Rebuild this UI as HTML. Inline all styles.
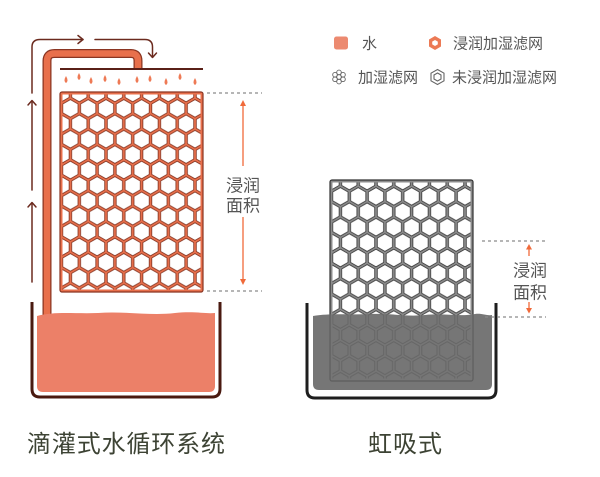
<!DOCTYPE html>
<html><head><meta charset="utf-8"><style>
html,body{margin:0;padding:0;background:#fff;width:600px;height:477px;overflow:hidden}
svg{display:block}
text{font-family:"Liberation Sans","Noto Sans CJK SC",sans-serif}
</style></head><body>
<svg width="600" height="477" viewBox="0 0 600 477" xmlns="http://www.w3.org/2000/svg">
<defs>
<path id="hx" d="M0,-8.8 L7.62,-4.4 L7.62,4.4 L0,8.8 L-7.62,4.4 L-7.62,-4.4Z"/>
<pattern id="pL" patternUnits="userSpaceOnUse" x="61.5" y="93" width="17.8" height="30.8">
<g fill="#fff" stroke="#7e2f1d" stroke-width="0.8" stroke-linejoin="round">
<use href="#hx" x="0" y="0"/><use href="#hx" x="17.8" y="0"/><use href="#hx" x="0" y="30.8"/><use href="#hx" x="17.8" y="30.8"/><use href="#hx" x="8.9" y="15.4"/>
</g></pattern>
<pattern id="pR" patternUnits="userSpaceOnUse" x="331.5" y="181" width="17.8" height="30.8">
<g fill="#fff" stroke="#333" stroke-width="0.8" stroke-linejoin="round">
<use href="#hx" x="0" y="0"/><use href="#hx" x="17.8" y="0"/><use href="#hx" x="0" y="30.8"/><use href="#hx" x="17.8" y="30.8"/><use href="#hx" x="8.9" y="15.4"/>
</g></pattern>
<pattern id="pR2" patternUnits="userSpaceOnUse" x="331.5" y="181" width="17.8" height="30.8">
<g fill="none" stroke="#555" stroke-width="1" stroke-linejoin="round">
<use href="#hx" x="0" y="0"/><use href="#hx" x="17.8" y="0"/><use href="#hx" x="0" y="30.8"/><use href="#hx" x="17.8" y="30.8"/><use href="#hx" x="8.9" y="15.4"/>
</g></pattern>
<clipPath id="wR"><path d="M313,316 C330,313 350,315 370,314 C390,313 405,317 425,315 C445,313 460,317 475,314 C482,313 487,316 492,315 V384 Q492,390 486,390 H319 Q313,390 313,384 Z"/></clipPath>
</defs>

<!-- LEFT: arrows -->
<g fill="none" stroke="#6b2a1e" stroke-width="1.5" stroke-linecap="round" stroke-linejoin="round">
<path d="M32,93 V47 Q32,39.5 40,39.5 H83"/>
<path d="M78,35.5 L83,39.5 L78,43.5"/>
<path d="M95,39.5 H145 Q152.5,39.5 152.5,47 V57"/>
<path d="M148.5,53 L152.5,57.5 L156.5,53"/>
<path d="M32,190 V101"/><path d="M28,105 L32,100.5 L36,105"/>
<path d="M32,282 V203"/><path d="M28,207 L32,202.5 L36,207"/>
</g>

<!-- pipe -->
<path d="M47,318 V61 Q47,53.5 54.5,53.5 H131 Q138,53.5 138,61 V69" fill="none" stroke="#8a3522" stroke-width="9"/>
<path d="M47,318 V61 Q47,53.5 54.5,53.5 H131 Q138,53.5 138,61 V69" fill="none" stroke="#e8704c" stroke-width="6.5"/>

<!-- drip tray -->
<line x1="60" y1="69" x2="203" y2="69" stroke="#5a2018" stroke-width="2"/>
<g fill="#ee7a55">
<path d="M66,76 Q69,81 66,83 Q63,81 66,76Z"/>
<path d="M79,73 Q82,78 79,80 Q76,78 79,73Z"/>
<path d="M91,77 Q94,82 91,84 Q88,82 91,77Z"/>
<path d="M105,75 Q108,80 105,82 Q102,80 105,75Z"/>
<path d="M119,78 Q122,83 119,85 Q116,83 119,78Z"/>
<path d="M137,76 Q140,81 137,83 Q134,81 137,76Z"/>
<path d="M150,75 Q153,80 150,82 Q147,80 150,75Z"/>
<path d="M166,78 Q169,83 166,85 Q163,83 166,78Z"/>
<path d="M180,73 Q183,78 180,80 Q177,78 180,73Z"/>
<path d="M195,78 Q198,83 195,85 Q192,83 195,78Z"/>
</g>

<!-- left panel -->
<rect x="60" y="92" width="143" height="200" rx="2" fill="#e8704c" stroke="#8a3522" stroke-width="1.2"/>
<rect x="62.5" y="94.5" width="138" height="195" fill="url(#pL)"/>

<!-- left dims -->
<g stroke="#8a8a8a" stroke-width="1.2" stroke-dasharray="3,3">
<line x1="207" y1="93" x2="262" y2="93"/>
<line x1="207" y1="291" x2="262" y2="291"/>
</g>
<g stroke="#f06a3a" stroke-width="1.3" fill="#f06a3a">
<line x1="243" y1="105" x2="243" y2="166"/>
<line x1="243" y1="217" x2="243" y2="280"/>
<path d="M243,100 L246,106 L240,106Z" stroke="none"/>
<path d="M243,285 L246,279 L240,279Z" stroke="none"/>
</g>
<text x="243" y="191.5" font-size="17" fill="#555" text-anchor="middle">浸润</text>
<text x="243" y="211.5" font-size="17" fill="#555" text-anchor="middle">面积</text>

<!-- left water & container -->
<path d="M37,316 C55,311 75,314 98,313 C125,311 150,316 175,313 C195,311 205,314 215,313 V386 Q215,392 209,392 H43 Q37,392 37,386 Z" fill="#ec8068"/>
<path d="M32,302 V389 Q32,397 40,397 H212 Q220,397 220,389 V302" fill="none" stroke="#4a1a10" stroke-width="3"/>

<!-- RIGHT panel -->
<rect x="330" y="180" width="143" height="201" rx="2" fill="#8c8c8c" stroke="#333" stroke-width="1.2"/>
<rect x="332.5" y="182.5" width="138" height="196" fill="url(#pR)"/>
<!-- right water -->
<g clip-path="url(#wR)">
<rect x="310" y="305" width="185" height="90" fill="#767676"/>
<rect x="330" y="180" width="143" height="201" rx="2" fill="none" stroke="#5e5e5e" stroke-width="1.2"/>
<rect x="332.5" y="182.5" width="138" height="196" fill="url(#pR2)" opacity="0.5"/>
</g>
<path d="M307,303 V390 Q307,398 315,398 H488 Q496,398 496,390 V303" fill="none" stroke="#1e1e1e" stroke-width="3"/>

<!-- right dims -->
<g stroke="#8a8a8a" stroke-width="1.2" stroke-dasharray="3,3">
<line x1="482" y1="241" x2="546" y2="241"/>
<line x1="485" y1="317" x2="546" y2="317"/>
</g>
<g stroke="#f06a3a" stroke-width="1.3" fill="#f06a3a">
<line x1="529" y1="248" x2="529" y2="256"/>
<line x1="529" y1="302" x2="529" y2="309"/>
<path d="M529,244 L532,249.5 L526,249.5Z" stroke="none"/>
<path d="M529,313.5 L532,308 L526,308Z" stroke="none"/>
</g>
<text x="530" y="276.5" font-size="17" fill="#555" text-anchor="middle">浸润</text>
<text x="530" y="298.5" font-size="17" fill="#555" text-anchor="middle">面积</text>

<!-- legend -->
<rect x="334" y="36.5" width="14" height="13" rx="2.5" fill="#ec8a70"/>
<text x="362" y="48.7" font-size="15" fill="#555">水</text>
<path d="M435,36 L441,39.5 L441,46.5 L435,50 L429,46.5 L429,39.5Z" fill="#ec7a55"/>
<path d="M435,40 L437.8,41.6 L437.8,44.4 L435,46 L432.2,44.4 L432.2,41.6Z" fill="#fff"/>
<text x="453" y="48.7" font-size="15" fill="#555">浸润加湿滤网</text>

<g fill="none" stroke="#666" stroke-width="0.9">
<circle cx="339" cy="77" r="2.3"/>
<circle cx="339" cy="72.4" r="2.3"/>
<circle cx="339" cy="81.6" r="2.3"/>
<circle cx="335" cy="74.7" r="2.3"/>
<circle cx="343" cy="74.7" r="2.3"/>
<circle cx="335" cy="79.3" r="2.3"/>
<circle cx="343" cy="79.3" r="2.3"/>
</g>
<text x="358" y="82.7" font-size="15" fill="#555">加湿滤网</text>
<path d="M437.5,69.5 L444,73.2 L444,80.8 L437.5,84.5 L431,80.8 L431,73.2Z" fill="none" stroke="#666" stroke-width="1.1"/>
<path d="M437.5,73 L441,75 L441,79 L437.5,81 L434,79 L434,75Z" fill="none" stroke="#666" stroke-width="1.1"/>
<text x="452" y="82.7" font-size="15" fill="#555">未浸润加湿滤网</text>

<!-- bottom labels -->
<text x="27" y="452" font-size="24" fill="#3d4334" textLength="198" lengthAdjust="spacing">滴灌式水循环系统</text>
<text x="368" y="452" font-size="24" fill="#3d4334" textLength="74" lengthAdjust="spacing">虹吸式</text>
</svg>
</body></html>
